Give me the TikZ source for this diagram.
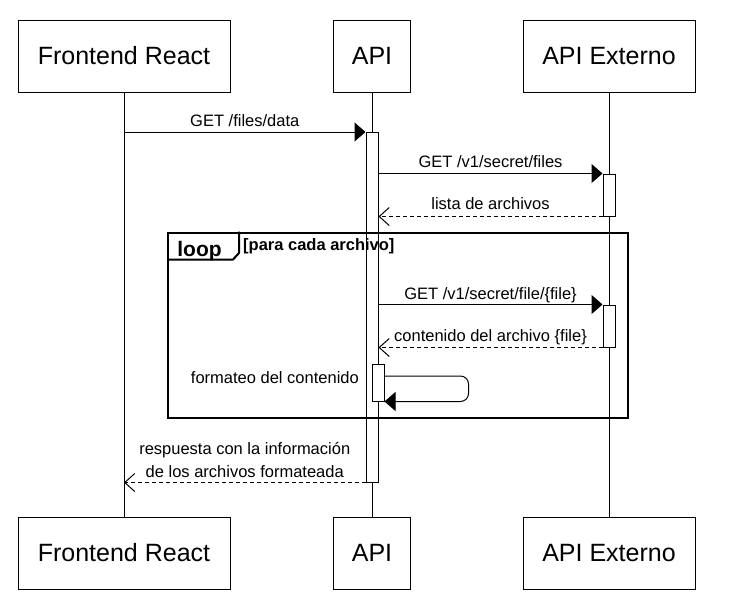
\documentclass[tikz,border=0pt]{standalone}
\usepackage{fontspec}
\setmainfont{Liberation Sans}
\usetikzlibrary{arrows.meta,calc}
\begin{document}
\begin{tikzpicture}[x=1pt,y=-1pt,
  actor/.style={draw, line width=1pt, fill=white, minimum width=#1, minimum height=72pt, inner sep=0pt, font=\fontsize{25}{30}\selectfont},
  act/.style={draw, fill=white, line width=1pt, minimum width=12pt, inner sep=0pt, minimum height=#1},
  lifeline/.style={line width=1pt},
  msg/.style={line width=1pt, -{Triangle[length=11pt,width=19pt]}},
  ret/.style={line width=1pt, dash pattern=on 4pt off 3pt, -{Straight Barb[length=10pt,width=18pt,line width=1pt]}},
  lbl/.style={font=\fontsize{16.5}{22.7}\selectfont, inner sep=0pt},
  framebox/.style={draw, line width=2pt, inner sep=0pt},
  tabline/.style={line width=2pt},
  guardlbl/.style={font=\bfseries\fontsize{16.5}{20}\selectfont, inner sep=0pt},
  looplbl/.style={font=\bfseries\fontsize{21}{25}\selectfont, inner sep=0pt}
]
\useasboundingbox (0,0) rectangle (736,614);
\fill[white] (0,0) rectangle (736,614);

% participants
\node[actor=212pt] (fe) at (124,56) {Frontend React};
\node[actor=77pt] (api) at (372,56) {API};
\node[actor=172pt] (ext) at (609,56) {API Externo};
\node[actor=212pt] (fe2) at (124,553) {Frontend React};
\node[actor=77pt] (api2) at (372,553) {API};
\node[actor=172pt] (ext2) at (609,553) {API Externo};

% lifelines
\draw[lifeline] (fe) -- (fe2);
\draw[lifeline] (api) -- (api2);
\draw[lifeline] (ext) -- (ext2);

% activations
\node[act=349.5pt] (aapi) at (372,307.25) {};
\node[act=42pt] (ae1) at (609,195) {};
\node[act=42pt] (ae2) at (609,326) {};
\node[act=37pt] (anest) at (378,382.5) {};

% loop frame
\node[framebox, minimum width=460pt, minimum height=185pt] (loopf) at (398,325) {};
\draw[tabline] (loopf.north west) ++(72,0) -- ++(0,21.5) -- ++(-6,6.5) -- ++(-66,0);
\node[looplbl, anchor=base] (looptxt) at (199.5,256) {loop};
\node[guardlbl, anchor=base west] (guard) at (243,250) {[para cada archivo]};

% messages
\draw[msg] (fe.south |- aapi.north) -- (aapi.north west)
  node[lbl, midway, anchor=base, yshift=5.5pt] (m1) {GET /files/data};
\draw[msg] (aapi.east |- ae1.north) -- (ae1.north west)
  node[lbl, midway, anchor=base, yshift=6pt] (m2) {GET /v1/secret/files};
\draw[ret] (ae1.south west) -- (aapi.east |- ae1.south)
  node[lbl, midway, anchor=base, yshift=7pt] (m3) {lista de archivos};
\draw[msg] (aapi.east |- ae2.north) -- (ae2.north west)
  node[lbl, midway, anchor=base, yshift=5.5pt] (m4) {GET /v1/secret/file/\{file\}};
\draw[ret] (ae2.south west) -- (aapi.east |- ae2.south)
  node[lbl, midway, anchor=base, yshift=6pt] (m5) {contenido del archivo \{file\}};

% self call
\draw[msg, rounded corners=8pt] ([yshift=-12.5pt]anest.north east) -- ++(84,0) |- (anest.south east);
\node[lbl, anchor=base east] (fmt) at (359,383) {formateo del contenido};

% final return
\draw[ret] (aapi.south west) -- (fe.south |- aapi.south)
  node[lbl, midway, anchor=base, yshift=5.3pt, align=center] (m6) {respuesta con la información\\de los archivos formateada};
\end{tikzpicture}
\end{document}
